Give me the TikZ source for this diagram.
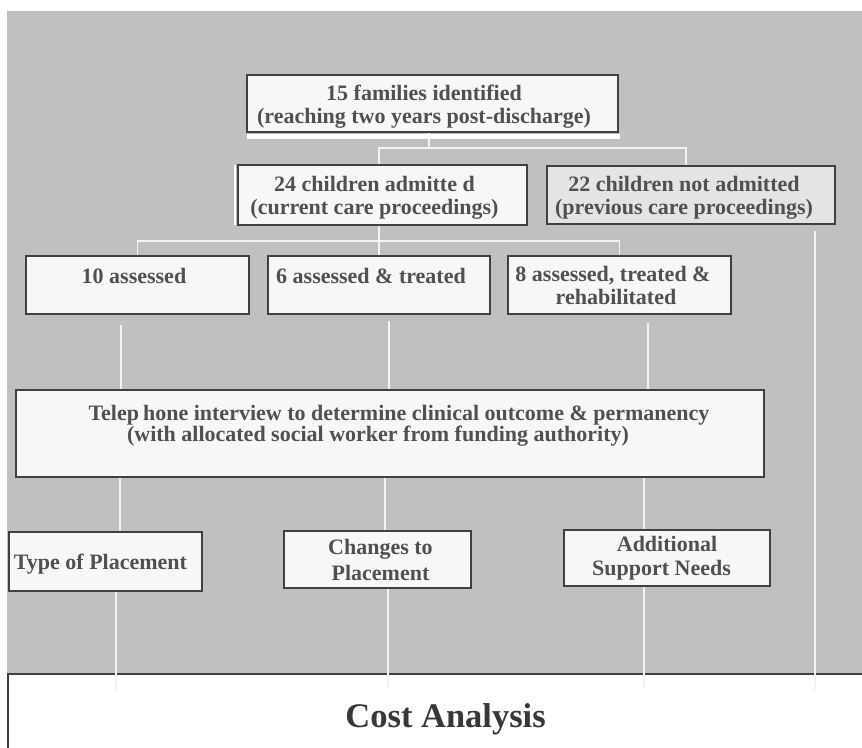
\documentclass[tikz,border=0pt]{standalone}
\usepackage{fontspec}
\setmainfont{Liberation Serif}
\usetikzlibrary{calc,backgrounds}
\definecolor{panelgray}{HTML}{C0C0C0}
\definecolor{boxline}{HTML}{404040}
\definecolor{boxfill}{HTML}{F7F7F7}
\definecolor{prevfill}{HTML}{E4E4E4}
\definecolor{boxtext}{HTML}{505050}
\definecolor{costtext}{HTML}{383838}
\definecolor{linkwhite}{HTML}{F3F3F3}
\tikzset{
  box/.style={draw=boxline, line width=2.2pt, fill=boxfill, text=boxtext,
    align=center, inner sep=0pt, font={\fontsize{22}{23}\selectfont\bfseries}},
  costbox/.style={draw=boxline, line width=2.2pt, fill=white, text=costtext,
    inner sep=0pt, font={\fontsize{34.5}{40}\selectfont\bfseries}},
  link/.style={draw=linkwhite, line width=1.8pt},
}

\begin{document}
\begin{tikzpicture}[x=1pt,y=-1pt]
        \useasboundingbox (0,0) rectangle (862,747);
        % Referral and admission
        \node[box, minimum width=371, minimum height=57] (fam) at (432.5,103.5)
          {\mbox{}\\[-1pt]15 families identified\hspace*{17pt}\mbox{}\\(reaching two years post-discharge)\hspace*{17pt}\mbox{}};
        \node[box, minimum width=289, minimum height=60, text depth=-5pt] (adm) at (382.5,195)
          {24 children admitte d\hspace*{16pt}\\(current care proceedings)\hspace*{16pt}};
        \node[box, fill=prevfill, minimum width=288, minimum height=58, text depth=-5pt] (prev) at (691,195)
          {22 children not admitted\hspace*{14pt}\\(previous care proceedings)\hspace*{14pt}};
        \fill[white] ($(fam.south west)+(1,1.2)$) rectangle ($(fam.south east)+(1,5.5)$);
        \fill[white] ($(adm.north west)+(-2.8,1)$) rectangle ($(adm.south west)+(-1.1,-1)$);

        % Treatment groups
        \node[box, minimum width=223, minimum height=58] (ass) at (137.5,285)
          {10 assessed\hspace*{7pt}\\[-4pt]\mbox{}};
        \node[box, minimum width=222, minimum height=58] (trt) at (379,285)
          {6 assessed \& treated\hspace*{16pt}\\[-4pt]\mbox{}};
        \node[box, minimum width=223, minimum height=58] (reh) at (619.5,285)
          {8 assessed, treated \&\hspace*{13pt}\\rehabilitated\hspace*{7pt}};

        % Follow-up interview
        \node[box, minimum width=748, minimum height=87] (tel) at (390,433.5)
          {\hspace*{18pt}Telep\hspace{4pt}hone interview to determine clinical outcome \& permanency\\[-2pt]
           (with allocated social worker from funding authority)\hspace*{24pt}\mbox{}\\[-2pt]\mbox{}};

        % Outcomes
        \node[box, minimum width=193, minimum height=59, text depth=-4pt] (typ) at (105.5,561.5)
          {Type of Placement\hspace*{10pt}};
        \node[box, minimum width=187, minimum height=57] (chg) at (377.5,559.5)
          {\hspace*{6pt}Changes to\\[3pt]\hspace*{6pt}Placement};
        \node[box, minimum width=206, minimum height=56] (sup) at (667,558)
          {Additional\\[1pt]Support Needs\hspace*{11pt}};

        \begin{scope}[on background layer]
        \fill[panelgray] (7,11) rectangle (862,673);
        \node[costbox, anchor=north west, minimum width=875, minimum height=90] (cost) at (7,673)
          {Cost Analysis};

        % Connectors
        \draw[link] ([xshift=-3.5pt]fam.south) -- ++(0,15) coordinate (famfork);
        \draw[link] ([xshift=-3.5pt]adm.north) |- (famfork) -| ([xshift=-5pt]prev.north);
        \draw[link] (adm.south -| trt.north) -- ++(0,15) coordinate (admfork);
        \draw[link] (ass.north) |- (admfork) -| (reh.north);
        \draw[link] (admfork) -- (trt.north);

        \draw[link] ($(ass.south)+(-16.5,10)$) -- ($(ass.south |- tel.north)+(-16.5,0)$);
        \draw[link] ($(trt.south)+(10,6)$) -- ($(trt.south |- tel.north)+(10,0)$);
        \draw[link] ($(reh.south)+(28.5,8)$) -- ($(reh.south |- tel.north)+(28.5,0)$);

        \draw[link] ($(typ.north |- tel.south)+(14.5,0)$) -- ($(typ.north)+(14.5,0)$);
        \draw[link] ($(chg.north |- tel.south)+(7.5,0)$) -- ($(chg.north)+(7.5,0)$);
        \draw[link] ($(sup.north |- tel.south)+(-23,0)$) -- ($(sup.north)+(-23,0)$);

        \draw[link] ($(typ.south)+(10.5,0)$) -- ($(typ.south |- cost.north)+(10.5,19)$);
        \draw[link] ($(chg.south)+(10.5,0)$) -- ($(chg.south |- cost.north)+(10.5,15)$);
        \draw[link] ($(sup.south)+(-23,0)$) -- ($(sup.south |- cost.north)+(-23,15)$);
        \draw[link] ($(prev.south)+(124,6)$) -- ($(prev.south |- cost.north)+(124,17)$);
        \end{scope}
\end{tikzpicture}
\end{document}
